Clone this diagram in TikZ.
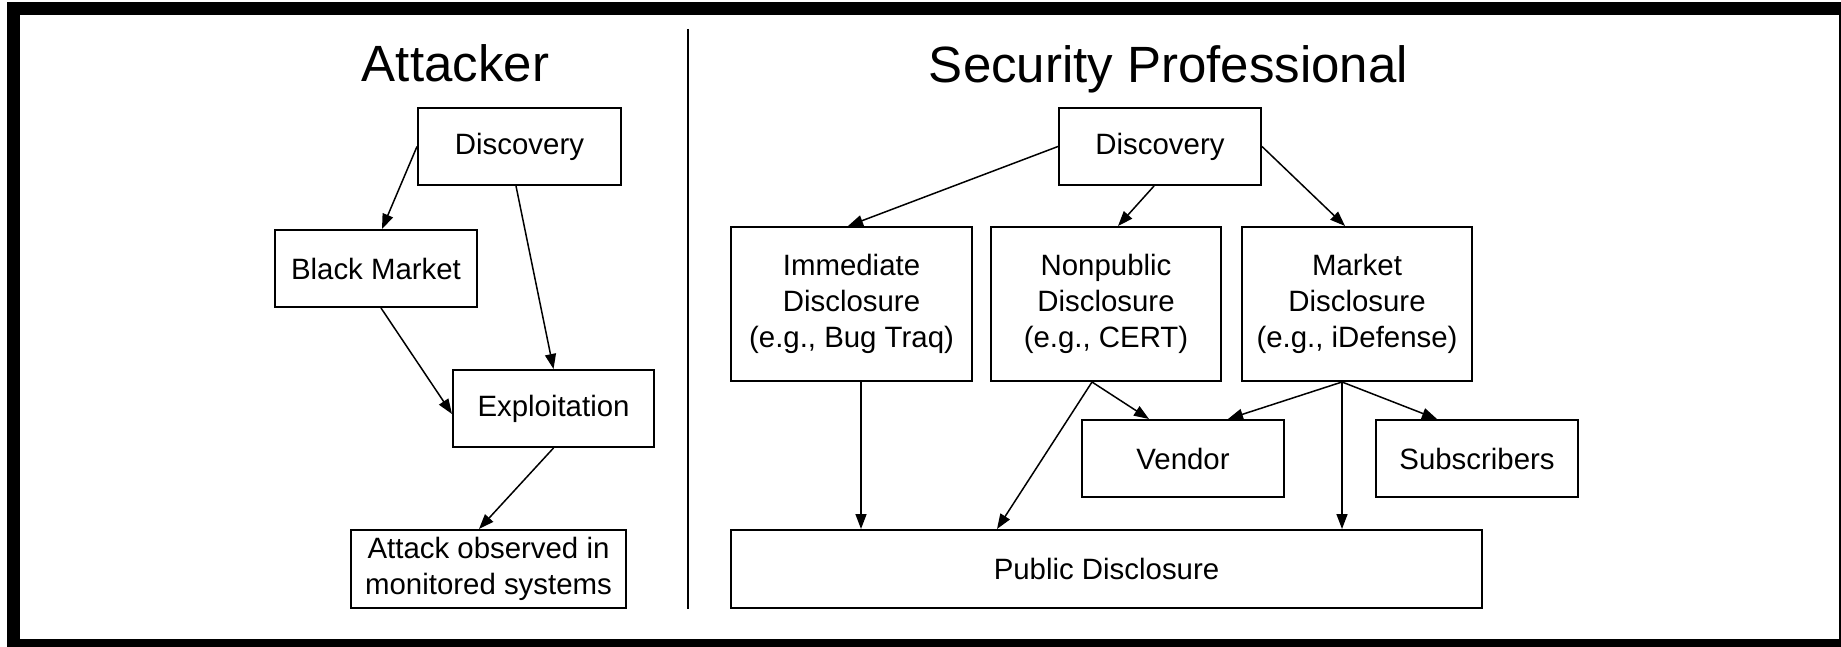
\documentclass[tikz,border=0pt]{standalone}
\usepackage{fontspec}
\setmainfont{Liberation Sans}
\usetikzlibrary{arrows.meta,calc}
\begin{document}
\begin{tikzpicture}[x=0.5pt,y=-0.5pt,
  box/.style={draw,line width=1pt,inner sep=0pt,align=center,font=\fontsize{14.7}{18}\selectfont},
  boxsize/.style 2 args={minimum width=#1*0.5pt,minimum height=#2*0.5pt},
  arr/.style={line width=0.75pt,-{Triangle[length=7.5pt,width=5.5pt]}},
  title/.style={font=\fontsize{25.5}{30}\selectfont,anchor=base,inner sep=0pt}]
\clip (0,0) rectangle (1841,647);
\fill[white] (0,0) rectangle (1841,647);
\draw[line width=6.5pt] (13.5,8.5) rectangle (1845.5,645.5);
% titles
\node[title] (tA) at (455.5,82) {Attacker};
\node[title] (tS) at (1168.5,82.5) {Security Professional};
% divider
\coordinate (dt) at (688,29);
\coordinate (db) at (688,609);
\draw[line width=1.25pt] (dt) -- (db);
% attacker
\node[box,boxsize={203}{77}] (aDisc) at (519.5,146.5) {Discovery};
\node[box,boxsize={202}{77}] (bm) at (376,268.5) {Black Market};
\node[box,boxsize={201}{77}] (expl) at (553.5,408.5) {Exploitation};
\node[box,boxsize={275}{78}] (obs) at (488.5,569) {Attack observed in\\monitored systems};
% security professional
\node[box,boxsize={202}{77}] (sDisc) at (1160,146.5) {Discovery};
\node[box,boxsize={241}{154}] (imm) at (851.5,304) {Immediate\\Disclosure\\(e.g., Bug Traq)};
\node[box,boxsize={230}{154}] (nonp) at (1106,304) {Nonpublic\\Disclosure\\(e.g., CERT)};
\node[box,boxsize={230}{154}] (mkt) at (1357,304) {Market\\Disclosure\\(e.g., iDefense)};
\node[box,boxsize={202}{77}] (vend) at (1183,458.5) {Vendor};
\node[box,boxsize={202}{77}] (subs) at (1477,458.5) {Subscribers};
\node[box,boxsize={751}{78}] (pub) at (1106.5,569) {Public Disclosure};
% attacker arrows
\draw[arr] (aDisc.west) -- ($(bm.north)+(6,0)$);
\draw[arr] ($(aDisc.south)+(-3.5,0)$) -- (expl.north);
\draw[arr] ($(bm.south)+(5,0)$) -- ($(expl.west)+(0,5.5)$);
\draw[arr] (expl.south) -- ($(obs.north)+(-9.5,0)$);
% security professional arrows
\draw[arr] (sDisc.west) -- ($(imm.north)+(-3.5,0)$);
\draw[arr] ($(sDisc.south)+(-6,0)$) -- ($(nonp.north)+(12,0)$);
\draw[arr] (sDisc.east) -- ($(mkt.north)+(-12,0)$);
\draw[arr] ($(imm.south)+(9.5,0)$) -- ($(pub.north)+(-245.5,0)$);
\draw[arr] ($(nonp.south)+(-14,0)$) -- ($(pub.north)+(-109.5,0)$);
\draw[arr] ($(nonp.south)+(-14,0)$) -- ($(vend.north)+(-34,0)$);
\draw[arr] ($(mkt.south)+(-15,0)$) -- ($(vend.north)+(45,0)$);
\draw[arr] ($(mkt.south)+(-15,0)$) -- ($(pub.north)+(235.5,0)$);
\draw[arr] ($(mkt.south)+(-15,0)$) -- ($(subs.north)+(-40,0)$);
\end{tikzpicture}
\end{document}
